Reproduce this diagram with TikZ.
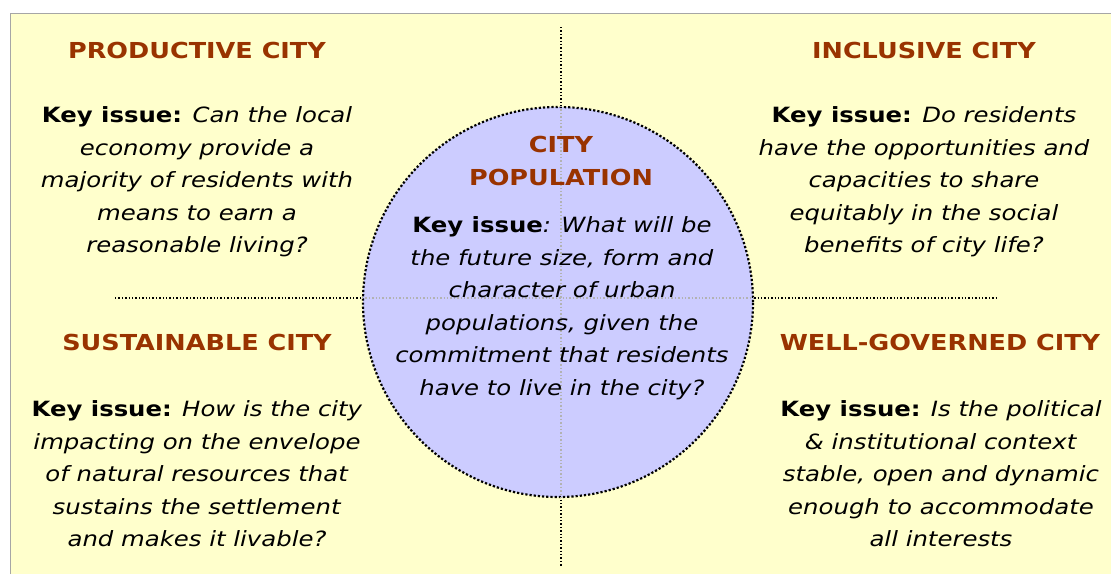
\documentclass[tikz,border=0pt]{standalone}
\usepackage{fontspec}
\setmainfont{DejaVu Sans}[FakeStretch=1.16]
\definecolor{bgyellow}{RGB}{255,255,204}
\definecolor{circblue}{RGB}{204,204,255}
\definecolor{titlered}{RGB}{153,51,0}
\begin{document}
\begin{tikzpicture}[x=1pt,y=-1pt,
  title/.style={font=\fontsize{22}{26}\selectfont\bfseries, text=titlered, inner sep=0pt},
  issue/.style={font=\fontsize{21}{32.5}\selectfont, align=center, inner sep=0pt},
  axis/.style={dotted, line width=1.4pt, black},
  axisin/.style={dotted, line width=1.4pt, black!30},
]
\useasboundingbox (0,0) rectangle (1111,574);
\fill[bgyellow] (10,13) rectangle (1111,574);
\draw[gray!70, line width=1pt] (10,574) -- (10,13) -- (1111,13);

\coordinate (vtop) at (561,27);
\coordinate (vbot) at (561,566);
\coordinate (hl) at (115,298);
\coordinate (hr) at (998,298);

\draw[axis] (vtop) -- (vbot);
\draw[axis] (hl) -- (hr);
\node[circle, minimum size=390pt, fill=circblue, draw=black, dotted, line width=2.2pt] (pop) at (558,302) {};
\draw[axisin] (pop.north -| vtop) -- (pop.south -| vtop);
\draw[axisin] (pop.west |- hl) -- (pop.east |- hl);

\node[title] (t1) at (197,50) {PRODUCTIVE CITY};
\node[title] (t2) at (924,50) {INCLUSIVE CITY};
\node[title] (t3) at (197,342) {SUSTAINABLE CITY};
\node[title] (t4) at (940,342) {WELL-GOVERNED CITY};
\node[title, align=center, font=\fontsize{22}{33}\selectfont\bfseries] (t5) at (561,161) {CITY\\POPULATION};

\node[issue] (k1) at (197,182) {\textbf{Key issue:} \textit{Can the local}\\\textit{economy provide a}\\\textit{majority of residents with}\\\textit{means to earn a}\\\textit{reasonable living?}};
\node[issue] (k2) at (924,182) {\textbf{Key issue:} \textit{Do residents}\\\textit{have the opportunities and}\\\textit{capacities to share}\\\textit{equitably in the social}\\\textit{benefits of city life?}};
\node[issue] (k3) at (197,474) {\textbf{Key issue:} \textit{How is the city}\\\textit{impacting on the envelope}\\\textit{of natural resources that}\\\textit{sustains the settlement}\\\textit{and makes it livable?}};
\node[issue] (k4) at (941,474) {\textbf{Key issue:} \textit{Is the political}\\\textit{\& institutional context}\\\textit{stable, open and dynamic}\\\textit{enough to accommodate}\\\textit{all interests}};
\node[issue] (k5) at (562,308) {\textbf{Key issue}\textit{: What will be}\\\textit{the future size, form and}\\\textit{character of urban}\\\textit{populations, given the}\\\textit{commitment that residents}\\\textit{have to live in the city?}};
\end{tikzpicture}
\end{document}
